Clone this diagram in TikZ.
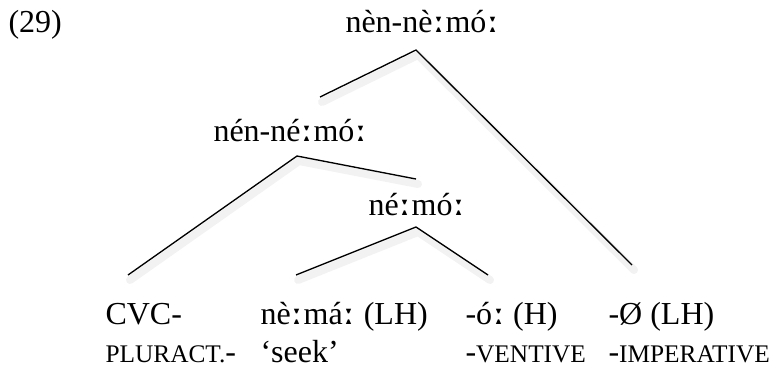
\documentclass[tikz,border=0pt]{standalone}
\usepackage{fontspec}
\setmainfont{Liberation Serif}
\newfontfamily\ipafont{DejaVu Serif}[Scale=1.1]
\usepackage{tikz}
\usetikzlibrary{calc, positioning}
\newcommand{\fakesc}[1]{{\fontsize{9.5}{11}\selectfont #1}}
\newcommand{\lng}{{\ipafont\bfseries ː}}

\begin{document}
\begin{tikzpicture}[x=0.375pt, y=-0.375pt, font=\fontsize{12}{14}\selectfont,
    lbl/.style={anchor=base west, inner sep=0pt},
    branch/.style={line width=0.5pt},
    shade/.style={line width=3pt, black!5, line cap=round}]
    \useasboundingbox (0,0) rectangle (773,369);
    % 1. Cac nut cua cay
    \node[lbl] (num) at (8,32) {(29)};
    \node[lbl] (root) at (345,32) {nèn-nè\lng mó\lng};
    \node[lbl] (mid) at (213,141) {nén-né\lng mó\lng};
    \node[lbl] (stem) at (368,215) {né\lng mó\lng};
    
    % 2. Hinh vi o duoi
    \node[lbl] (cvc) at (105,324) {CVC-};
    \node[lbl] (verb) at (260,324) {nè\lng má\lng{} (LH)};
    \node[lbl] (vent) at (465,324) {-ó\lng{} (H)};
    \node[lbl] (imp) at (608,324) {-Ø (LH)};
    \node[lbl] (cvcg) at (105,362) {\fakesc{PLURACT.}-};
    \node[lbl] (verbg) at (260,362) {‘seek’};
    \node[lbl] (ventg) at (465,362) {-\fakesc{VENTIVE}};
    \node[lbl] (impg) at (608,362) {-\fakesc{IMPERATIVE}};
    
    % 3. Cac nhanh
    \coordinate (r0) at (416,50);
    \coordinate (r1) at (320,97);
    \coordinate (r2) at (632,265);
    \coordinate (m0) at (297,156);
    \coordinate (m1) at (128,275);
    \coordinate (m2) at (416,179);
    \coordinate (s0) at (416,227);
    \coordinate (s1) at (296,275);
    \coordinate (s2) at (488,275);
    \foreach \p in {r,m,s} {
        \draw[shade] ($(\p1)+(2,5)$) -- ($(\p0)+(2,5)$) -- ($(\p2)+(2,5)$);
        \draw[branch] (\p1) -- (\p0) -- (\p2);
    }
\end{tikzpicture}
\end{document}
